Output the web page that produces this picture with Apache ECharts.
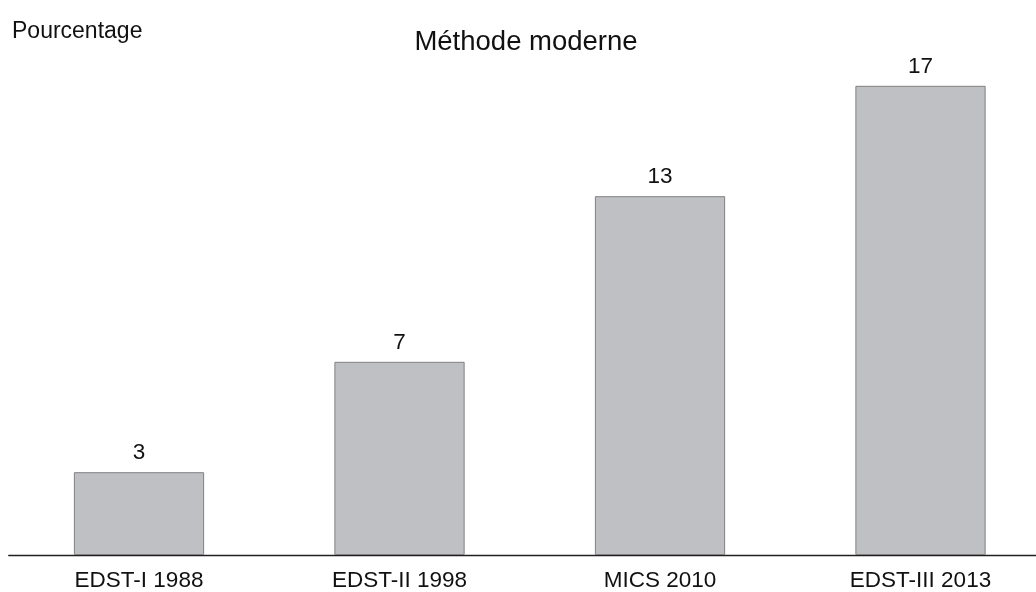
<!DOCTYPE html>
<html>
<head>
<meta charset="utf-8">
<script src="https://cdn.jsdelivr.net/npm/echarts@6/dist/echarts.min.js"></script>
<style>
  html, body { margin: 0; padding: 0; background: #ffffff; }
  #chart { width: 1036px; height: 592px; }
</style>
</head>
<body>
<div id="chart"></div>
<script>
// Survey rounds and share using a modern method (%)
const categories = ['EDST-I 1988', 'EDST-II 1998', 'MICS 2010', 'EDST-III 2013'];
const values = [3, 7, 13, 17];

const FONT = '"Liberation Sans", Arial, Helvetica, sans-serif';
const chart = echarts.init(document.getElementById('chart'), null, { renderer: 'canvas' });

chart.setOption({
  animation: false,
  backgroundColor: '#ffffff',
  title: [
    {
      text: 'Méthode moderne',
      left: 521, top: 23, textAlign: 'center',
      textStyle: { fontFamily: FONT, fontSize: 27.5, fontWeight: 'normal', color: '#111111' }
    },
    {
      text: 'Pourcentage',
      left: 7, top: 15,
      textStyle: { fontFamily: FONT, fontSize: 23, fontWeight: 'normal', color: '#111111' }
    }
  ],
  // the plot runs past the right edge so the baseline reaches the border
  grid: { left: 8.75, width: 1042, top: 3, bottom: 37, outerBoundsMode: 'none' },
  xAxis: {
    type: 'category',
    data: categories,
    axisLine: { show: true, lineStyle: { color: '#231f20', width: 1.3 } },
    axisTick: { show: false },
    axisLabel: { fontFamily: FONT, fontSize: 22.5, color: '#111111', margin: 14, interval: 0 }
  },
  yAxis: {
    type: 'value', min: 0, max: 20,
    show: false,
    splitLine: { show: false }
  },
  series: [{
    type: 'bar',
    data: values,
    barCategoryGap: '50%',
    itemStyle: { color: '#bfc0c4', borderColor: '#808080', borderWidth: 1 },
    label: {
      show: true, position: 'top', distance: 8,
      fontFamily: FONT, fontSize: 22.5, color: '#111111'
    }
  }]
});
</script>
</body>
</html>
